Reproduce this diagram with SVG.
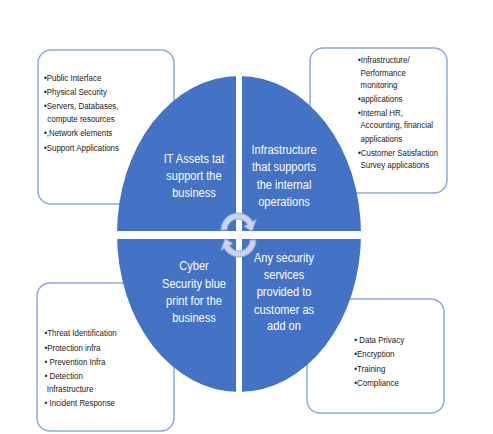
<svg xmlns="http://www.w3.org/2000/svg" width="493" height="434" viewBox="0 0 493 434">
<style>
.box{fill:#FFFFFF;stroke:#8EA9DB;stroke-width:1.5}
.quad{fill:#4472C4}
.qt{font-family:"Liberation Sans",Arial,sans-serif;font-size:13.5px;fill:#FFFFFF;text-anchor:middle}
.bt{font-family:"Liberation Sans",Arial,sans-serif;font-size:9px;fill:#1A1A1A}
.arr{fill:#C9D4EC;stroke:#93A9D6;stroke-width:1}
</style>
<defs>
<clipPath id="oval"><ellipse cx="239" cy="234" rx="122" ry="158"/></clipPath>
</defs>
<rect width="493" height="434" fill="#FFFFFF"/>

<g id="box-it-assets">
<rect class="box" x="38" y="50" width="136" height="154" rx="13"/>
<text class="bt" transform="translate(44,0) scale(0.88,1)"><tspan x="0" y="81">•Public Interface</tspan><tspan x="0" y="95.5">•Physical Security</tspan><tspan x="0" y="109.3">•Servers, Databases,</tspan><tspan x="3.8" y="121.7">compute resources</tspan><tspan x="0" y="136.5">•,Network elements</tspan><tspan x="0" y="151">•Support Applications</tspan></text>
</g>

<g id="box-infrastructure">
<rect class="box" x="310" y="48" width="137" height="145" rx="13"/>
<text class="bt" transform="translate(358,0) scale(0.88,1)"><tspan x="0" y="63.3">•Infrastructure/</tspan><tspan x="2.9" y="76">Performance</tspan><tspan x="2.9" y="88.3">monitoring</tspan><tspan x="0" y="102.3">•applications</tspan><tspan x="0" y="115.7">•Internal HR,</tspan><tspan x="2.9" y="128.3">Accounting, financial</tspan><tspan x="2.9" y="141.7">applications</tspan><tspan x="0" y="156">•Customer Satisfaction</tspan><tspan x="2.9" y="168.3">Survey applications</tspan></text>
</g>

<g id="box-cyber">
<rect class="box" x="37" y="283" width="137" height="148" rx="13"/>
<text class="bt" transform="translate(44.5,0) scale(0.88,1)"><tspan x="0" y="336">•Threat Identification</tspan><tspan x="0" y="350.7">•Protection infra</tspan><tspan x="0" y="365">• Prevention Infra</tspan><tspan x="0" y="379.3">• Detection</tspan><tspan x="2.5" y="391.7">Infrastructure</tspan><tspan x="0" y="406">• Incident Response</tspan></text>
</g>

<g id="box-services">
<rect class="box" x="307" y="299" width="137" height="114" rx="13"/>
<text class="bt" transform="translate(354.3,0) scale(0.88,1)"><tspan x="0" y="342.7">• Data Privacy</tspan><tspan x="0" y="356.7">•Encryption</tspan><tspan x="0" y="371.7">•Training</tspan><tspan x="0" y="385.7">•Compliance</tspan></text>
</g>

<g clip-path="url(#oval)">
<g id="quad-it-assets">
<rect class="quad" x="100" y="60" width="136" height="171"/>
</g>
<g id="quad-infrastructure">
<rect class="quad" x="242" y="60" width="140" height="171"/>
</g>
<g id="quad-cyber">
<rect class="quad" x="100" y="239" width="136" height="170"/>
</g>
<g id="quad-services">
<rect class="quad" x="242" y="239" width="140" height="170"/>
</g>
</g>

<g id="label-it-assets">
<text class="qt" transform="translate(194,0) scale(0.82,1)"><tspan x="0" y="163">IT Assets tat</tspan><tspan x="0" y="180.5">support the</tspan><tspan x="0" y="197.5">business</tspan></text>
</g>
<g id="label-infrastructure">
<text class="qt" transform="translate(284,0) scale(0.82,1)"><tspan x="0" y="154">Infrastructure</tspan><tspan x="0" y="171.5">that supports</tspan><tspan x="0" y="189">the internal</tspan><tspan x="0" y="206">operations</tspan></text>
</g>
<g id="label-cyber">
<text class="qt" transform="translate(194,0) scale(0.82,1)"><tspan x="0" y="270.5">Cyber</tspan><tspan x="0" y="288">Security blue</tspan><tspan x="0" y="305.5">print for the</tspan><tspan x="0" y="322.5">business</tspan></text>
</g>
<g id="label-services">
<text class="qt" transform="translate(284,0) scale(0.82,1)"><tspan x="0" y="262.5">Any security</tspan><tspan x="0" y="279.5">services</tspan><tspan x="0" y="296.5">provided to</tspan><tspan x="0" y="314">customer as</tspan><tspan x="0" y="330.5">add on</tspan></text>
</g>

<g id="connectors">
<path class="arr" d="M221,230 A17,17 0 0 1 252.72,221.5 L256.19,219.5 L251.95,231.22 L244.06,226.5 L247.53,224.5 A11,11 0 0 0 227,230 Z"/>
<path class="arr" transform="rotate(180 238.5 235)" d="M221,230 A17,17 0 0 1 252.72,221.5 L256.19,219.5 L251.95,231.22 L244.06,226.5 L247.53,224.5 A11,11 0 0 0 227,230 Z"/>
</g>
</svg>
